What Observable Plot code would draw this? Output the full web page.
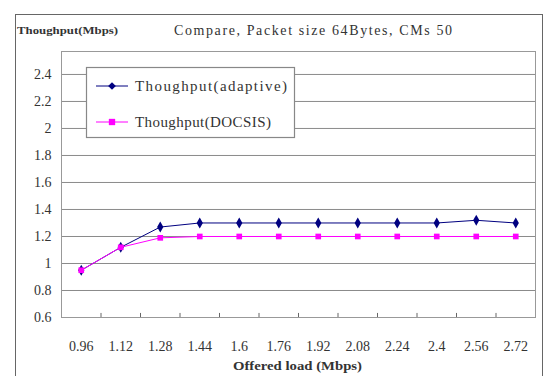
<!DOCTYPE html>
<html>
<head>
<meta charset="utf-8">
<script src="https://cdn.jsdelivr.net/npm/d3@7"></script>
<script src="https://cdn.jsdelivr.net/npm/@observablehq/plot@0.6"></script>
<style>
  html, body { margin: 0; padding: 0; background: #fff; }
  #chart { position: relative; width: 550px; height: 376px; overflow: hidden; }
  #chart svg { position: absolute; left: 0; top: 0; }
  #chart svg text { font-family: "Liberation Serif", "DejaVu Serif", serif; }
  #border { position: absolute; left: 15px; top: 14px; width: 528px; height: 420px;
            border: 1.5px solid #666; box-sizing: border-box; pointer-events: none; }
</style>
</head>
<body>
<div id="chart"><div id="border"></div></div>
<script>
// Offered load categories (Mbps)
const loads = ["0.96", "1.12", "1.28", "1.44", "1.6", "1.76", "1.92", "2.08", "2.24", "2.4", "2.56", "2.72"];
// Throughput per offered load (Mbps)
const adaptive = [0.95, 1.12, 1.27, 1.30, 1.30, 1.30, 1.30, 1.30, 1.30, 1.30, 1.32, 1.30];
const docsis   = [0.95, 1.12, 1.19, 1.20, 1.20, 1.20, 1.20, 1.20, 1.20, 1.20, 1.20, 1.20];
const yTicks = [0.6, 0.8, 1.0, 1.2, 1.4, 1.6, 1.8, 2.0, 2.2, 2.4];
const seriesNames = ["Thoughput(adaptive)", "Thoughput(DOCSIS)"];
const seriesColors = ["#000080", "#ff00ff"];
const chartTitle = "Compare, Packet size 64Bytes, CMs 50";
const yTitle = "Thoughput(Mbps)";
const xTitle = "Offered load (Mbps)";

const idx = loads.map((_, i) => i);
const bounds = idx.slice(1).map(i => i - 0.5);
const yMin = 0.6;

const plot = Plot.plot({
  width: 550,
  height: 376,
  marginLeft: 61,
  marginRight: 15,
  marginTop: 51,
  marginBottom: 59,
  style: { fontSize: "14px", color: "#333", background: "transparent" },
  x: { type: "linear", domain: [-0.5, loads.length - 0.5] },
  y: { domain: [yMin, 2.57] },
  marks: [
    Plot.gridY(yTicks, { stroke: "#8a8a8a", strokeOpacity: 1 }),
    Plot.frame({ stroke: "#999" }),
    Plot.axisY(yTicks, { tickSize: 0, tickPadding: 10, fontSize: 14,
                         tickFormat: d => String(+d.toFixed(1)), label: null }),
    Plot.axisX(idx, { tickSize: 0, tickPadding: 24, fontSize: 14,
                      tickFormat: i => loads[i], label: null }),
    // short category-boundary ticks rising from the bottom edge
    Plot.ruleX(bounds, { x: d => d, y1: () => yMin, y2: () => yMin + 0.03, stroke: "#666", strokeWidth: 1 }),
    Plot.line(adaptive, { x: (d, i) => i, y: d => d, stroke: seriesColors[0], strokeWidth: 1 }),
    Plot.dot(adaptive, { x: (d, i) => i, y: d => d, symbol: "diamond", r: 3.3, fill: seriesColors[0], stroke: "none" }),
    Plot.line(docsis, { x: (d, i) => i, y: d => d, stroke: seriesColors[1], strokeWidth: 1 }),
    Plot.dot(docsis, { x: (d, i) => i, y: d => d, symbol: "square", r: 3.2, fill: seriesColors[1], stroke: "none" })
  ]
});

document.getElementById("chart").insertBefore(plot, document.getElementById("border"));

// Titles and legend drawn over the plot
const svg = d3.select(plot);

function label(x, y, size, weight, len, adjust, str) {
  return svg.append("text")
    .attr("x", x).attr("y", y)
    .attr("text-anchor", "start")
    .attr("font-size", size).attr("font-weight", weight)
    .attr("fill", "#333")
    .attr("textLength", len).attr("lengthAdjust", adjust)
    .text(str);
}

label(174, 35, 14, "normal", 278, "spacing", chartTitle);
label(17, 34, 11, "bold", 101, "spacingAndGlyphs", yTitle);
label(233, 370, 12, "bold", 129, "spacingAndGlyphs", xTitle);

const legend = svg.append("g");
legend.append("rect")
  .attr("x", 86.5).attr("y", 67.5).attr("width", 208).attr("height", 70)
  .attr("fill", "#fff").attr("stroke", "#888").attr("stroke-width", 1.2);

const rowY = [86, 122];
const textLen = [152, 136];
const symbols = [d3.symbolDiamond2, d3.symbolSquare];
seriesNames.forEach((name, k) => {
  const y = rowY[k];
  legend.append("line")
    .attr("x1", 96).attr("x2", 128).attr("y1", y).attr("y2", y)
    .attr("stroke", seriesColors[k]).attr("stroke-width", 1);
  legend.append("path")
    .attr("transform", `translate(112,${y})`)
    .attr("d", d3.symbol(symbols[k], k === 0 ? 38 : 40)())
    .attr("fill", seriesColors[k]);
  legend.append("text")
    .attr("x", 135).attr("y", y + 5)
    .attr("text-anchor", "start")
    .attr("font-size", 15).attr("fill", "#333")
    .attr("textLength", textLen[k]).attr("lengthAdjust", "spacing")
    .text(name);
});
</script>
</body>
</html>
